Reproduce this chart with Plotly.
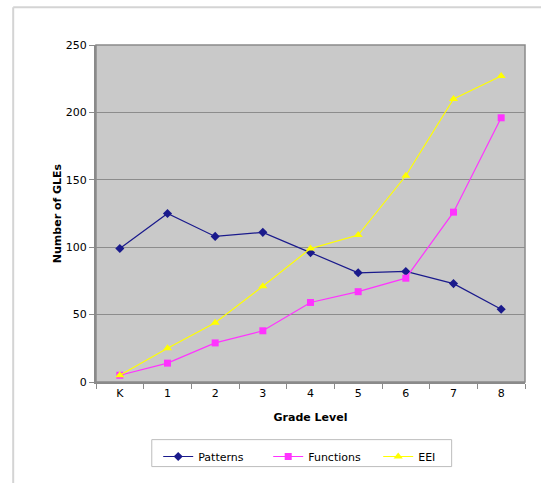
import plotly.graph_objects as go

# Grade levels and GLE counts per strand
grades = ["K", "1", "2", "3", "4", "5", "6", "7", "8"]
patterns = [99, 125, 108, 111, 96, 81, 82, 73, 54]
functions = [5, 14, 29, 38, 59, 67, 77, 126, 196]
eei = [5, 25, 44, 71, 99, 109, 153, 210, 227]

y_ticks = [0, 50, 100, 150, 200, 250]

FONT = "DejaVu Sans"

fig = go.Figure()
fig.add_trace(go.Scatter(
    x=grades, y=patterns, name="Patterns", mode="lines+markers",
    line=dict(color="#1a1a8c", width=1.2),
    marker=dict(symbol="diamond", size=7, color="#1a1a8c"),
))
fig.add_trace(go.Scatter(
    x=grades, y=functions, name="Functions", mode="lines+markers",
    line=dict(color="#ff33ff", width=1.2),
    marker=dict(symbol="square", size=7, color="#ff33ff"),
))
fig.add_trace(go.Scatter(
    x=grades, y=eei, name="EEI", mode="lines+markers",
    line=dict(color="#ffff00", width=1.2),
    marker=dict(symbol="triangle-up", size=8, color="#ffff00"),
))

fig.update_layout(
    width=541, height=483,
    margin=dict(l=96, r=16, t=45, b=99),
    paper_bgcolor="white",
    plot_bgcolor="#c9c9c9",
    font=dict(family=FONT, size=11, color="black"),
    showlegend=True,
    legend=dict(
        orientation="h", x=0.145, xanchor="left", y=-0.178, yanchor="top",
        borderwidth=0, bgcolor="rgba(0,0,0,0)",
        font=dict(family=FONT, size=11),
        entrywidth=65, entrywidthmode="pixels",
        itemwidth=30,
    ),
    shapes=[
        # outer chart frame (left and top edges)
        dict(type="line", xref="paper", yref="paper", x0=-0.193, x1=-0.193,
             y0=1.112, y1=-0.3, line=dict(color="#d4d4d4", width=2)),
        dict(type="line", xref="paper", yref="paper", x0=-0.193, x1=1.04,
             y0=1.112, y1=1.112, line=dict(color="#d4d4d4", width=2)),
        # legend box
        dict(type="rect", xref="paper", yref="paper", x0=0.130, x1=0.829,
             y0=-0.251, y1=-0.171, line=dict(color="#bdbdbd", width=1)),
        # plot area border
        dict(type="rect", xref="paper", yref="paper", x0=0, x1=1, y0=0, y1=1,
             line=dict(color="#8a8a8a", width=1.5), layer="above"),
    ],
)

fig.update_xaxes(
    title=dict(text="<b>Grade Level</b>", font=dict(family=FONT, size=11), standoff=14),
    showgrid=False, showline=True, linecolor="#8a8a8a", linewidth=2,
    ticks="outside", ticklen=5, tickcolor="#8a8a8a", tickson="boundaries",
    mirror=False, range=[-0.5, 8.5],
)
fig.update_yaxes(
    title=dict(text="<b>Number of GLEs</b>", font=dict(family=FONT, size=11), standoff=2),
    range=[0, 250], tickvals=y_ticks,
    showgrid=True, gridcolor="#8c8c8c", gridwidth=1,
    showline=True, linecolor="#8a8a8a", linewidth=2,
    ticks="outside", ticklen=5, tickcolor="#8a8a8a",
    zeroline=False,
)

fig.write_html("out.html")
